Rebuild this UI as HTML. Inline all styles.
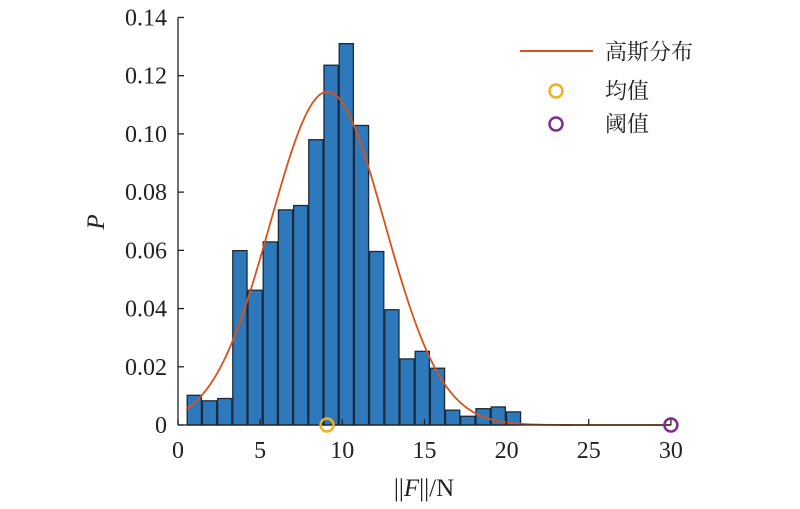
<!DOCTYPE html>
<html><head><meta charset="utf-8"><style>
body{margin:0;background:#fff}
text{font-family:"Liberation Serif","Noto Serif CJK SC",serif;fill:#222}
</style></head><body>
<svg id="chart" width="800" height="504" viewBox="0 0 800 504" xmlns="http://www.w3.org/2000/svg">
<g id="bars"></g>
<g id="curve"></g>
<g id="axes"></g>
<g id="markers"></g>
<g>
<line x1="520" y1="51" x2="593" y2="51" stroke="#D95319" stroke-width="2"/>
<text x="605" y="52" font-size="22" dominant-baseline="central">高斯分布</text>
<circle cx="556" cy="91" r="6.5" fill="none" stroke="#EDB120" stroke-width="2.5"/>
<text x="605" y="91" font-size="22" dominant-baseline="central">均值</text>
<circle cx="556" cy="124" r="6.5" fill="none" stroke="#7E2F8E" stroke-width="2.5"/>
<text x="605" y="124" font-size="22" dominant-baseline="central">阈值</text>
</g>
<text x="424" y="496" font-size="25" text-anchor="middle">||<tspan font-style="italic">F</tspan>||/N</text>
<text x="104" y="222" font-size="25" font-style="italic" text-anchor="middle" transform="rotate(-90 104 222)">P</text>
</svg>
<script>
const binStart = 0.53;
const binWidth = 0.925;
const binValues = [0.0102,0.0083,0.0091,0.0599,0.0463,0.0629,0.0739,0.0754,0.098,0.1236,0.131,0.1029,0.0596,0.0396,0.0227,0.0253,0.0195,0.0051,0.003,0.0056,0.0062,0.0045];
const gaussMean = 9.1;
const gaussSigma = 3.48;
const gaussPeak = 0.1145;
const meanValue = 9.07;
const thresholdValue = 30;
const xTicks = [0,5,10,15,20,25,30];
const yTicks = [0,0.02,0.04,0.06,0.08,0.10,0.12,0.14];
const yTickLabels = ["0","0.02","0.04","0.06","0.08","0.10","0.12","0.14"];

const NS = "http://www.w3.org/2000/svg";
const X0 = 178, XS = 16.43, Y0 = 425, YS = 2911;
const xs = v => X0 + v * XS;
const ys = v => Y0 - v * YS;
function mk(tag, attrs, parent){const e=document.createElementNS(NS,tag);for(const k in attrs)e.setAttribute(k,attrs[k]);parent.appendChild(e);return e;}

const gb = document.getElementById('bars');
binValues.forEach((v,i)=>{
  const l = xs(binStart + i*binWidth), r = xs(binStart + (i+1)*binWidth);
  const el = mk('rect',{x:l+0.5,y:ys(v),width:r-l-1,height:Y0-ys(v),fill:'#2E78BC',stroke:'#1a2a3a','stroke-width':1.3},gb);
  
  
});

const gc = document.getElementById('curve');
let d = '';
for(let x=0.5;x<=30.001;x+=0.1){
  const y = gaussPeak*Math.exp(-((x-gaussMean)**2)/(2*gaussSigma*gaussSigma));
  d += (d?'L':'M') + xs(x).toFixed(2) + ',' + ys(y).toFixed(2);
}
const path = mk('path',{d:d,fill:'none',stroke:'#D95319','stroke-width':1.8},gc);



const ga = document.getElementById('axes');
const yl = mk('line',{x1:X0,y1:Y0,x2:X0,y2:ys(0.14),stroke:'#222','stroke-width':1.3},ga);


const xl = mk('line',{x1:X0,y1:Y0,x2:xs(30),y2:Y0,stroke:'#222','stroke-width':1.3},ga);


xTicks.forEach(t=>{
  const tk = mk('line',{x1:xs(t),y1:Y0,x2:xs(t),y2:Y0-6,stroke:'#222','stroke-width':1.3},ga);
  
  
  const tx = mk('text',{x:xs(t),y:Y0+33,'font-size':24,'text-anchor':'middle'},ga);
  tx.textContent = String(t);
  
  
});
yTicks.forEach((t,i)=>{
  const tk = mk('line',{x1:X0,y1:ys(t),x2:X0+6,y2:ys(t),stroke:'#222','stroke-width':1.3},ga);
  
  
  const tx = mk('text',{x:X0-11,y:ys(t)+8,'font-size':24,'text-anchor':'end'},ga);
  tx.textContent = yTickLabels[i];
  
  
});

const gm = document.getElementById('markers');
const mm = mk('circle',{cx:xs(meanValue),cy:Y0,r:6.5,fill:'none',stroke:'#EDB120','stroke-width':2.5},gm);


const tm = mk('circle',{cx:xs(thresholdValue),cy:Y0,r:6.5,fill:'none',stroke:'#7E2F8E','stroke-width':2.5},gm);


</script>
</body></html>
